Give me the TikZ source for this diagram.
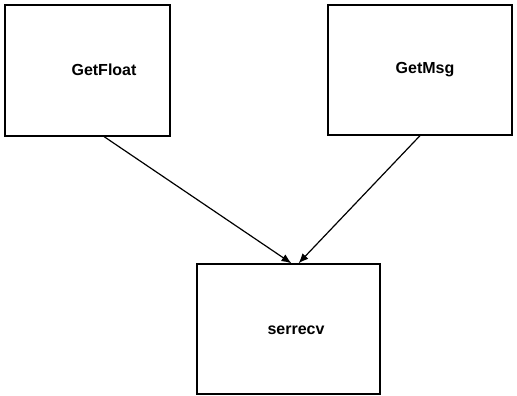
\documentclass[tikz,border=0pt]{standalone}
\usepackage{fontspec}
\setmainfont{Liberation Sans}
\usetikzlibrary{arrows.meta,calc}
\begin{document}
\begin{tikzpicture}[x=1pt,y=-1pt,
  box/.style={draw=black,line width=1.3pt,minimum width=#1,inner sep=0pt,minimum height=130pt},
  lbl/.style={font=\fontsize{16}{19}\selectfont\bfseries},
  conn/.style={draw=black,line width=1.2pt,-{Latex[length=10pt,width=8pt]}}]
\useasboundingbox[fill=white] (0,0) rectangle (517,396);
\node[box=165pt,minimum height=131pt] (gf) at (87.5,70.5) {};
\node[box=184pt] (gm) at (420,70) {};
\node[box=183pt] (sr) at (288.5,329) {};
\node[lbl] (tgf) at (104,70) {GetFloat};
\node[lbl] (tgm) at (425,70) {GetMsg};
\node[lbl] (tsr) at (296,330) {serrecv};
\coordinate (s1) at ($(gf.south west)!0.6!(gf.south east)$);
\coordinate (s2) at (gm.south);
\coordinate (e1) at ($(sr.north)+(3,0)$);
\coordinate (e2) at ($(sr.north)+(10,0)$);
\draw[conn] (s1) -- (e1);
\draw[conn] (s2) -- (e2);
\end{tikzpicture}
\end{document}
